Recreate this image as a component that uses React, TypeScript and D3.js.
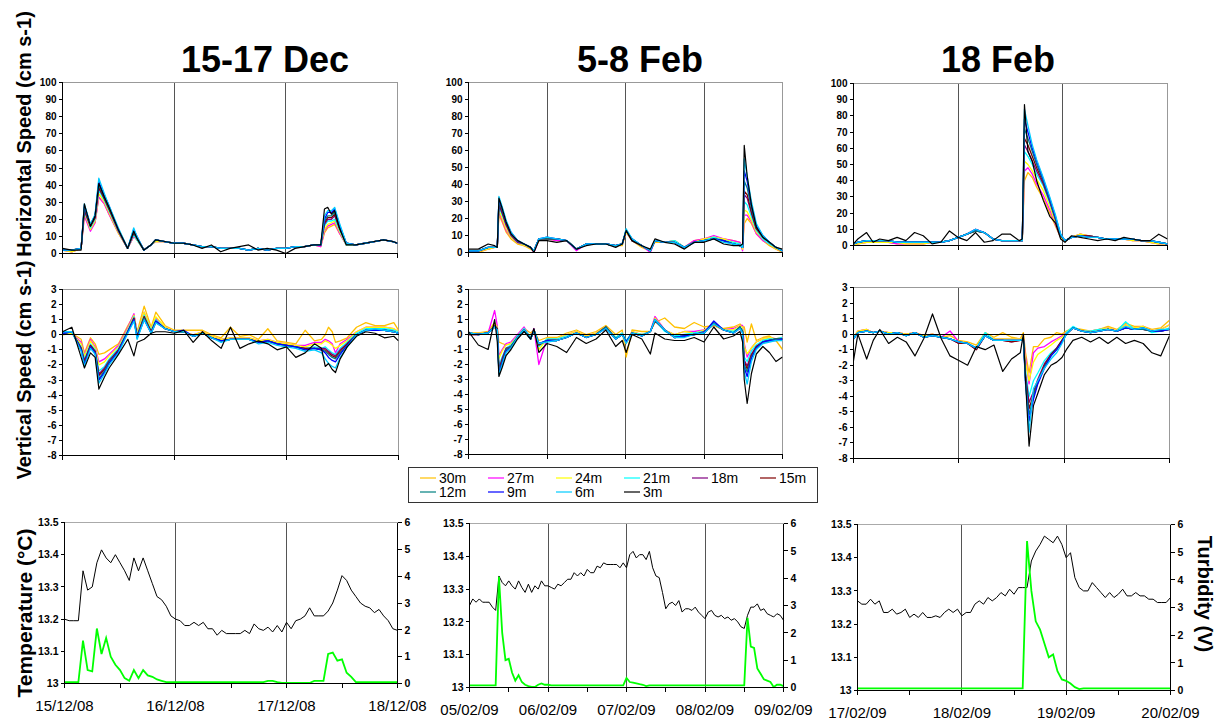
import * as d3 from "d3";

const FONT = "Arial, 'Liberation Sans', Helvetica, sans-serif";

// depths in legend order, deepest first
const depths = ["30m", "27m", "24m", "21m", "18m", "15m", "12m", "9m", "6m", "3m"];
const depthColors = ["#FFC000", "#FF00FF", "#FFFF00", "#00FFFF", "#800080", "#800000", "#008080", "#0000FF", "#00CCFF", "#000000"];

const titles = ["15-17 Dec", "5-8 Feb", "18 Feb"];
const decDates = ["15/12/08", "16/12/08", "17/12/08", "18/12/08"];
const feb5Dates = ["05/02/09", "06/02/09", "07/02/09", "08/02/09", "09/02/09"];
const feb17Dates = ["17/02/09", "18/02/09", "19/02/09", "20/02/09"];

// ---- 15-17 Dec : hours since 15/12/08 00:00
const decHours = [0, 2, 4, 4.7, 6, 7, 7.8, 9, 10, 12, 14, 15.3, 16, 17.5, 19, 20, 22, 24, 26, 28, 30, 32, 34, 36, 38, 40, 42, 44, 46, 48, 50, 52, 54, 55.5, 56.3, 57, 57.8, 58.5, 59.5, 61, 63, 65, 67, 69, 71, 72];

const decHoriz = [
  [2, 1, 3, 22, 14, 18, 33, 29, 23, 12, 3, 10, 8, 2, 5, 7, 7, 6, 6, 5, 4, 4, 3, 3, 3, 2, 3, 2, 3, 3, 4, 4, 5, 4, 12, 15, 16, 17, 12, 5, 5, 6, 7, 8, 7, 6],
  [2, 1, 3, 22, 13, 18, 33, 29, 23, 12, 3, 10, 8, 2, 5, 7, 7, 6, 6, 5, 4, 4, 3, 3, 3, 2, 3, 2, 3, 3, 4, 4, 5, 4, 13, 16, 17, 18, 12, 5, 5, 6, 7, 8, 7, 6],
  [2, 1, 3, 24, 14, 19, 35, 30, 24, 12, 3, 11, 8, 2, 5, 7, 7, 6, 6, 5, 4, 4, 3, 3, 3, 2, 3, 2, 3, 3, 4, 4, 5, 5, 14, 17, 18, 19, 13, 5, 5, 6, 7, 8, 7, 6],
  [2, 2, 3, 25, 15, 20, 37, 31, 25, 13, 3, 11, 8, 2, 5, 8, 7, 6, 6, 5, 4, 4, 3, 3, 3, 2, 3, 2, 3, 3, 4, 4, 5, 5, 16, 19, 19, 20, 14, 5, 5, 6, 7, 8, 7, 6],
  [2, 2, 3, 25, 16, 21, 38, 32, 26, 13, 3, 12, 9, 2, 5, 8, 7, 6, 6, 5, 4, 4, 3, 3, 3, 2, 3, 2, 3, 3, 4, 4, 5, 5, 17, 20, 20, 22, 15, 6, 5, 6, 7, 8, 7, 6],
  [2, 2, 3, 26, 16, 21, 39, 32, 26, 14, 3, 12, 9, 2, 5, 8, 7, 6, 6, 5, 4, 4, 3, 3, 3, 2, 3, 2, 3, 3, 4, 4, 5, 5, 18, 21, 21, 23, 15, 6, 5, 6, 7, 8, 7, 6],
  [2, 2, 3, 27, 17, 22, 40, 33, 27, 14, 3, 13, 9, 2, 5, 8, 7, 6, 6, 5, 4, 4, 3, 3, 3, 2, 3, 2, 3, 3, 4, 4, 5, 5, 19, 22, 22, 24, 16, 6, 5, 6, 7, 8, 7, 6],
  [2, 2, 3, 28, 17, 22, 42, 34, 28, 14, 3, 14, 10, 2, 5, 8, 7, 6, 6, 5, 4, 4, 3, 3, 3, 2, 3, 2, 3, 3, 4, 4, 5, 5, 20, 24, 24, 26, 17, 6, 5, 6, 7, 8, 7, 6],
  [2, 2, 3, 29, 17, 23, 44, 35, 28, 15, 3, 15, 10, 2, 5, 8, 7, 6, 6, 5, 4, 4, 3, 3, 3, 2, 3, 2, 3, 3, 4, 4, 5, 5, 22, 25, 25, 27, 18, 6, 5, 6, 7, 8, 7, 6],
  [3, 2, 2, 29, 16, 22, 41, 33, 27, 14, 3, 13, 9, 2, 5, 8, 7, 6, 6, 5, 3, 5, 1, 3, 4, 5, 2, 3, 2, 0, 3, 4, 5, 5, 26, 27, 23, 25, 15, 5, 5, 6, 7, 8, 7, 6],
];

const decVert = [
  [0.0, 0.1, -0.3, -1.2, -0.2, -0.6, -1.3, -1.2, -1.0, -0.6, 0.6, 1.3, 0.2, 1.9, 0.5, 1.5, 0.6, 0.3, 0.3, 0.3, 0.3, 0.0, -0.2, 0.5, -0.1, 0.0, -0.3, 0.4, -0.4, -0.5, -0.6, 0.3, -0.4, -0.3, 0.0, 0.5, 0.2, -0.5, -0.4, -0.2, 0.5, 0.8, 0.6, 0.6, 0.8, 0.3],
  [0.1, 0.1, -0.5, -1.3, -0.3, -0.8, -1.8, -1.6, -1.3, -0.7, 0.5, 1.4, 0.1, 1.5, 0.4, 1.1, 0.5, 0.2, 0.2, 0.0, 0.2, -0.1, -0.3, -0.2, -0.2, -0.2, -0.4, -0.3, -0.5, -0.6, -0.7, -0.7, -0.5, -0.5, -0.3, -0.4, -0.6, -1.2, -0.6, -0.3, 0.2, 0.5, 0.5, 0.5, 0.4, 0.2],
  [0.1, 0.1, -0.6, -1.4, -0.4, -0.9, -2.0, -1.8, -1.4, -0.8, 0.4, 1.3, 0.1, 1.5, 0.4, 1.2, 0.5, 0.2, 0.2, 0.0, 0.2, -0.1, -0.3, -0.2, -0.2, -0.2, -0.4, -0.3, -0.5, -0.6, -0.7, -0.8, -0.6, -0.6, -0.4, -0.5, -0.7, -0.9, -0.7, -0.4, 0.2, 0.5, 0.5, 0.5, 0.4, 0.2],
  [0.1, 0.2, -0.8, -1.6, -0.6, -1.0, -2.4, -2.1, -1.6, -0.9, 0.3, 1.2, 0.0, 1.3, 0.3, 1.0, 0.4, 0.2, 0.2, -0.1, 0.1, -0.2, -0.4, -0.3, -0.3, -0.3, -0.5, -0.4, -0.6, -0.7, -0.8, -0.9, -0.8, -0.9, -0.8, -1.0, -1.2, -1.3, -0.9, -0.5, 0.1, 0.4, 0.4, 0.4, 0.3, 0.2],
  [0.1, 0.2, -0.9, -1.7, -0.7, -1.1, -2.6, -2.2, -1.7, -1.0, 0.2, 1.1, -0.1, 1.2, 0.2, 0.9, 0.4, 0.2, 0.2, -0.1, 0.1, -0.2, -0.4, -0.3, -0.3, -0.3, -0.5, -0.4, -0.6, -0.7, -0.8, -0.9, -0.9, -0.9, -0.9, -1.1, -1.3, -1.4, -1.0, -0.6, 0.0, 0.3, 0.3, 0.3, 0.2, 0.1],
  [0.1, 0.2, -0.9, -1.8, -0.7, -1.1, -2.7, -2.3, -1.8, -1.0, 0.2, 1.1, -0.1, 1.2, 0.2, 0.9, 0.4, 0.2, 0.2, -0.1, 0.1, -0.2, -0.4, -0.3, -0.3, -0.3, -0.5, -0.4, -0.6, -0.7, -0.8, -0.9, -0.9, -1.0, -1.0, -1.2, -1.4, -1.5, -1.1, -0.6, 0.0, 0.3, 0.3, 0.3, 0.2, 0.1],
  [0.1, 0.2, -1.0, -1.9, -0.8, -1.2, -2.9, -2.4, -1.8, -1.1, 0.2, 1.0, -0.2, 1.1, 0.1, 0.8, 0.4, 0.2, 0.2, -0.1, 0.1, -0.2, -0.4, -0.3, -0.3, -0.3, -0.5, -0.4, -0.6, -0.7, -0.8, -1.0, -0.9, -1.0, -1.1, -1.3, -1.5, -1.6, -1.2, -0.7, 0.0, 0.3, 0.3, 0.3, 0.2, 0.1],
  [0.1, 0.2, -1.0, -2.0, -0.8, -1.2, -3.0, -2.5, -1.9, -1.1, 0.2, 1.0, -0.2, 1.0, 0.1, 0.9, 0.4, 0.2, 0.3, -0.1, 0.1, -0.2, -0.4, -0.3, -0.3, -0.3, -0.5, -0.4, -0.6, -0.7, -0.8, -1.0, -0.9, -1.0, -1.2, -1.5, -1.7, -1.8, -1.3, -0.7, 0.0, 0.3, 0.3, 0.3, 0.2, 0.1],
  [0.2, 0.2, -1.1, -2.1, -0.9, -1.3, -3.2, -2.6, -2.0, -1.2, 0.1, 0.9, -0.3, 1.0, 0.1, 0.8, 0.4, 0.2, 0.2, -0.1, 0.1, -0.2, -0.5, -0.3, -0.3, -0.3, -0.6, -0.5, -0.7, -0.8, -0.9, -1.1, -1.0, -1.2, -1.6, -1.9, -2.1, -2.2, -1.5, -0.8, 0.0, 0.3, 0.4, 0.3, 0.2, 0.1],
  [0.2, 0.5, -1.5, -2.2, -1.2, -1.5, -3.6, -2.8, -2.2, -1.3, -0.3, -1.4, -0.5, -0.3, 0.1, 0.2, 0.2, 0.1, 0.3, -0.5, 0.2, -0.4, -0.9, 0.5, -0.9, -0.6, -0.4, -0.6, -1.0, -0.8, -1.5, -1.2, -0.6, -0.9, -2.1, -1.9, -2.3, -2.5, -1.6, -0.8, -0.1, 0.2, 0.1, -0.2, -0.1, -0.4],
];

// ---- 5-8 Feb : hours since 05/02/09 00:00
const feb5Hours = [0, 3, 6, 8, 8.8, 9.3, 10.3, 11.5, 13, 15, 17, 19, 20, 21.5, 24, 27, 30, 33, 36, 39, 42, 45, 47, 48.2, 50, 53, 55.6, 57, 60, 63, 66, 69, 72, 75, 78, 81, 83, 83.8, 84.3, 85.2, 86.5, 88, 90, 92, 94, 96];

const feb5Horiz = [
  [1, 0, 2, 3, 3, 22, 18, 12, 8, 5, 4, 2, 1, 7, 8, 7, 7, 2, 5, 5, 5, 4, 4, 12, 7, 3, 1, 6, 6, 7, 3, 7, 8, 9, 8, 7, 6, 2, 17, 20, 17, 11, 7, 4, 2, 0],
  [1, 1, 2, 3, 3, 24, 19, 13, 9, 6, 4, 3, 0, 7, 8, 7, 7, 1, 5, 5, 5, 4, 5, 12, 7, 4, 0, 7, 6, 7, 3, 7, 8, 10, 8, 7, 6, 1, 22, 22, 18, 11, 7, 5, 2, 1],
  [1, 1, 2, 3, 3, 25, 20, 14, 9, 6, 4, 3, 1, 7, 8, 8, 7, 2, 5, 5, 5, 4, 5, 12, 7, 4, 1, 7, 6, 7, 3, 6, 8, 9, 8, 6, 5, 2, 25, 24, 19, 12, 8, 5, 2, 1],
  [1, 1, 3, 3, 3, 27, 22, 16, 10, 6, 5, 3, 1, 8, 8, 8, 7, 2, 5, 5, 5, 4, 5, 13, 7, 4, 1, 7, 6, 7, 3, 6, 7, 9, 7, 6, 5, 3, 30, 28, 21, 13, 8, 5, 3, 1],
  [1, 1, 3, 3, 3, 28, 23, 16, 10, 6, 5, 3, 1, 8, 8, 8, 7, 2, 5, 5, 5, 4, 5, 13, 7, 4, 1, 7, 6, 6, 3, 6, 7, 8, 7, 5, 4, 3, 34, 32, 23, 14, 9, 6, 3, 1],
  [1, 1, 3, 3, 3, 29, 24, 17, 11, 7, 5, 3, 1, 8, 8, 8, 7, 2, 5, 5, 5, 4, 5, 13, 7, 4, 1, 7, 6, 6, 3, 6, 7, 8, 7, 5, 4, 3, 36, 34, 24, 14, 9, 6, 3, 1],
  [1, 1, 3, 3, 3, 30, 25, 18, 11, 7, 5, 3, 1, 8, 8, 8, 7, 2, 5, 5, 5, 4, 5, 13, 8, 4, 1, 7, 6, 6, 3, 6, 7, 8, 7, 5, 4, 3, 42, 38, 26, 15, 9, 6, 3, 1],
  [1, 1, 3, 3, 3, 31, 26, 18, 12, 7, 5, 3, 1, 8, 9, 8, 7, 2, 5, 5, 5, 4, 5, 13, 8, 4, 1, 7, 6, 6, 3, 6, 7, 8, 7, 5, 4, 3, 48, 42, 28, 16, 10, 6, 3, 1],
  [1, 1, 3, 3, 3, 33, 27, 19, 12, 7, 5, 3, 1, 8, 9, 8, 7, 2, 5, 5, 5, 4, 5, 14, 8, 4, 1, 7, 6, 6, 3, 6, 7, 8, 6, 5, 4, 3, 55, 45, 30, 17, 10, 6, 3, 1],
  [2, 2, 5, 4, 3, 32, 26, 18, 11, 7, 5, 3, 0, 7, 7, 6, 7, 2, 4, 5, 5, 3, 5, 13, 7, 4, 2, 8, 6, 5, 2, 6, 6, 8, 5, 4, 4, 5, 63, 45, 28, 15, 9, 6, 3, 2],
];

const feb5Vert = [
  [0.1, 0.1, 0.2, 0.8, 0.5, -0.5, -0.6, -0.7, -0.6, -0.1, 0.4, 0.1, 0.3, -0.4, -0.2, -0.2, 0.1, 0.3, 0.0, 0.2, 0.6, 0.0, 0.3, -1.5, 0.3, 0.2, 0.2, 0.8, 1.1, 0.5, 0.4, 0.8, 0.5, 0.6, 0.4, 0.5, 0.7, 0.5, 0.5, -0.5, 0.7, -0.4, -0.2, -0.1, -0.4, -1.0],
  [0.1, 0.1, 0.1, 1.6, 0.6, -1.4, -1.0, -0.6, -0.5, 0.0, 0.5, -0.2, 0.4, -2.0, -0.3, -0.3, 0.0, 0.2, -0.1, 0.1, 0.5, -0.2, 0.1, -0.6, 0.2, 0.0, 0.2, 1.2, 0.3, 0.0, 0.2, 0.2, 0.3, 0.6, 0.3, 0.4, 0.6, 0.6, -0.6, -1.5, -0.9, -0.5, -0.3, -0.2, -0.3, -0.2],
  [0.1, 0.1, 0.1, 0.7, 0.5, -1.6, -1.1, -0.7, -0.6, -0.1, 0.4, -0.2, 0.3, -1.0, -0.3, -0.3, 0.0, 0.2, -0.1, 0.1, 0.5, -0.2, 0.1, -0.6, 0.2, 0.0, 0.2, 1.1, 0.3, 0.0, 0.2, 0.1, 0.3, 0.6, 0.3, 0.3, 0.6, 0.5, -0.8, -1.3, -0.9, -0.5, -0.3, -0.2, -0.3, -0.2],
  [0.1, 0.0, 0.1, 0.6, 0.4, -2.1, -1.5, -0.9, -0.7, -0.1, 0.4, -0.2, 0.3, -0.8, -0.3, -0.3, -0.1, 0.1, -0.2, 0.0, 0.5, -0.2, 0.1, -0.4, 0.1, 0.0, 0.2, 1.0, 0.2, -0.1, 0.0, 0.1, 0.2, 0.7, 0.3, 0.2, 0.5, 0.3, -1.5, -1.8, -1.1, -0.7, -0.4, -0.3, -0.3, -0.2],
  [0.0, 0.0, 0.1, 0.6, 0.4, -2.3, -1.6, -0.9, -0.8, -0.2, 0.3, -0.3, 0.3, -0.7, -0.4, -0.4, -0.2, 0.1, -0.2, 0.0, 0.5, -0.3, 0.0, -0.5, 0.1, -0.1, 0.2, 1.0, 0.3, -0.2, -0.1, 0.0, 0.2, 0.7, 0.3, 0.1, 0.5, 0.2, -1.7, -2.1, -1.3, -0.8, -0.5, -0.4, -0.3, -0.3],
  [0.0, 0.0, 0.1, 0.5, 0.4, -2.4, -1.7, -1.0, -0.8, -0.2, 0.3, -0.3, 0.3, -0.7, -0.4, -0.4, -0.2, 0.1, -0.2, 0.0, 0.5, -0.3, 0.0, -0.5, 0.1, -0.1, 0.2, 0.9, 0.3, -0.2, -0.1, 0.0, 0.1, 0.7, 0.3, 0.1, 0.5, 0.2, -1.8, -2.3, -1.4, -0.8, -0.5, -0.4, -0.3, -0.3],
  [0.1, 0.0, 0.1, 0.5, 0.3, -2.5, -1.8, -1.0, -0.8, -0.2, 0.3, -0.3, 0.3, -0.6, -0.4, -0.4, -0.2, 0.1, -0.2, 0.0, 0.5, -0.3, 0.0, -0.5, 0.1, -0.1, 0.2, 0.9, 0.3, -0.2, -0.1, 0.0, 0.1, 0.8, 0.3, 0.1, 0.5, 0.2, -2.0, -2.5, -1.5, -0.9, -0.5, -0.4, -0.3, -0.3],
  [0.1, 0.0, 0.1, 0.5, 0.3, -2.6, -1.9, -1.1, -0.9, -0.2, 0.3, -0.3, 0.3, -0.6, -0.4, -0.4, -0.2, 0.1, -0.2, 0.0, 0.4, -0.3, 0.0, -0.5, 0.1, -0.1, 0.2, 1.0, 0.3, -0.2, -0.1, 0.0, 0.1, 0.9, 0.3, 0.1, 0.4, 0.1, -2.2, -2.8, -1.6, -0.9, -0.5, -0.4, -0.4, -0.3],
  [0.1, 0.0, 0.1, 0.5, 0.3, -2.7, -2.0, -1.2, -0.9, -0.2, 0.3, -0.3, 0.3, -0.6, -0.5, -0.4, -0.2, 0.1, -0.2, 0.0, 0.4, -0.3, 0.0, -0.6, 0.1, -0.1, 0.2, 1.0, 0.3, -0.2, -0.2, 0.0, 0.1, 0.7, 0.3, 0.1, 0.4, 0.1, -2.5, -3.3, -1.8, -1.0, -0.6, -0.5, -0.4, -0.4],
  [0.2, -0.7, -1.0, 1.0, -0.5, -2.8, -2.2, -1.4, -1.0, -0.3, 0.2, -0.3, 0.4, -1.2, -0.6, -0.8, -1.2, -0.2, -0.6, -0.3, 0.3, -0.8, -0.4, -1.2, 0.0, -0.3, -1.3, 0.1, -0.3, -0.4, -0.4, -0.2, -0.5, 0.5, -0.3, -0.1, 0.2, -0.5, -3.0, -4.6, -2.6, -1.3, -0.8, -1.2, -1.8, -1.5],
];

// ---- 17-20 Feb : hours since 17/02/09 00:00
const feb17Hours = [0, 1, 3, 4.5, 6, 8, 10, 12, 14, 16, 18, 20, 22, 24, 26, 28, 30, 32, 34, 36, 38, 38.7, 39.2, 40, 41, 42, 43.5, 45, 46.3, 47.5, 48.5, 50, 52, 54, 56, 58, 60, 62, 64, 66, 68, 70, 72];

const feb17Horiz = [
  [0, 1, 2, 2, 2, 2, 1, 1, 1, 1, 2, 2, 3, 5, 7, 10, 8, 4, 3, 3, 3, 3, 40, 45, 42, 36, 29, 20, 12, 5, 3, 5, 7, 6, 5, 4, 4, 4, 3, 3, 2, 1, 1],
  [0, 1, 2, 2, 2, 2, 1, 1, 1, 1, 2, 2, 3, 5, 7, 10, 8, 4, 3, 3, 3, 3, 46, 48, 44, 38, 31, 22, 13, 5, 3, 5, 7, 6, 5, 4, 4, 4, 3, 3, 2, 1, 1],
  [0, 1, 2, 2, 2, 2, 2, 1, 1, 1, 2, 2, 3, 5, 7, 9, 8, 4, 3, 3, 3, 3, 52, 50, 46, 41, 34, 24, 14, 5, 3, 5, 7, 6, 5, 4, 4, 4, 3, 3, 2, 1, 1],
  [1, 2, 3, 3, 3, 3, 2, 2, 2, 2, 2, 2, 3, 5, 7, 9, 8, 4, 3, 3, 3, 3, 58, 55, 50, 44, 37, 26, 16, 6, 3, 5, 6, 6, 5, 4, 4, 4, 4, 3, 3, 2, 1],
  [1, 2, 3, 3, 3, 3, 2, 2, 2, 2, 2, 2, 3, 5, 7, 9, 8, 4, 3, 3, 3, 3, 62, 58, 52, 46, 38, 27, 16, 6, 3, 5, 6, 6, 5, 4, 4, 4, 4, 3, 3, 2, 1],
  [1, 2, 3, 3, 3, 3, 2, 2, 2, 2, 2, 2, 3, 5, 7, 9, 8, 4, 3, 3, 3, 3, 66, 62, 55, 48, 39, 28, 17, 6, 3, 5, 6, 6, 5, 4, 4, 4, 4, 3, 3, 2, 1],
  [1, 2, 3, 3, 3, 3, 2, 2, 2, 2, 2, 2, 3, 5, 7, 9, 8, 4, 3, 3, 3, 3, 72, 66, 58, 50, 40, 28, 17, 6, 3, 5, 6, 5, 5, 4, 4, 4, 4, 3, 3, 2, 1],
  [1, 2, 3, 3, 3, 3, 2, 2, 2, 2, 2, 2, 3, 5, 7, 10, 8, 4, 3, 3, 3, 3, 78, 70, 60, 52, 41, 29, 18, 7, 3, 5, 6, 5, 5, 4, 4, 4, 4, 3, 3, 2, 1],
  [1, 2, 3, 3, 3, 3, 2, 2, 2, 2, 2, 2, 3, 5, 7, 10, 8, 4, 3, 3, 3, 3, 84, 74, 62, 53, 42, 30, 19, 7, 3, 5, 6, 5, 5, 4, 4, 4, 4, 3, 3, 2, 1],
  [1, 4, 8, 2, 4, 3, 5, 3, 8, 6, 1, 2, 9, 5, 3, 8, 2, 3, 7, 7, 3, 4, 87, 58, 52, 40, 28, 18, 14, 4, 2, 6, 5, 4, 3, 4, 3, 5, 4, 3, 3, 7, 4],
];

const feb17Vert = [
  [-0.2, 0.2, 0.3, 0.1, 0.2, 0.1, 0.1, 0.0, 0.1, -0.1, 0.0, -0.2, -0.1, -0.4, -0.5, -0.7, 0.1, -0.2, 0.1, -0.2, -0.3, 0.1, -1.2, -2.5, -0.8, -0.8, -0.3, -0.2, 0.1, 0.0, 0.2, 0.4, 0.3, 0.2, 0.3, 0.5, 0.3, 0.7, 0.5, 0.5, 0.3, 0.4, 0.9],
  [-0.2, 0.2, 0.3, 0.1, 0.2, 0.1, 0.1, 0.0, 0.1, -0.1, 0.0, -0.2, 0.2, -0.5, -0.6, -0.9, -0.1, -0.3, -0.3, -0.3, -0.3, -0.2, -1.5, -3.2, -1.2, -0.9, -0.8, -0.5, -0.3, -0.1, 0.1, 0.4, 0.2, 0.2, 0.3, 0.4, 0.2, 0.6, 0.4, 0.5, 0.2, 0.3, 0.6],
  [-0.2, 0.2, 0.3, 0.1, 0.2, 0.1, 0.1, 0.0, 0.1, -0.1, 0.0, -0.2, -0.3, -0.5, -0.6, -0.9, -0.1, -0.3, -0.3, -0.3, -0.3, -0.2, -1.8, -3.0, -1.8, -1.3, -1.0, -0.7, -0.4, -0.2, 0.1, 0.4, 0.2, 0.2, 0.3, 0.4, 0.2, 0.6, 0.4, 0.5, 0.2, 0.3, 0.6],
  [-0.2, 0.1, 0.2, 0.1, 0.2, 0.0, 0.1, -0.1, 0.1, -0.2, -0.1, -0.2, -0.3, -0.5, -0.6, -0.9, 0.1, -0.4, -0.4, -0.4, -0.4, -0.3, -2.4, -4.0, -3.0, -2.5, -1.7, -1.2, -0.9, -0.4, 0.1, 0.5, 0.2, 0.2, 0.3, 0.3, 0.2, 0.8, 0.3, 0.4, 0.1, 0.2, 0.4],
  [-0.3, 0.1, 0.2, 0.1, 0.2, 0.0, 0.1, -0.1, 0.1, -0.2, -0.1, -0.2, -0.3, -0.6, -0.6, -1.0, -0.1, -0.4, -0.4, -0.5, -0.4, -0.3, -2.6, -4.4, -3.7, -2.9, -1.9, -1.3, -0.9, -0.4, 0.0, 0.4, 0.2, 0.1, 0.2, 0.3, 0.2, 0.4, 0.3, 0.3, 0.2, 0.2, 0.3],
  [-0.3, 0.1, 0.2, 0.1, 0.2, 0.0, 0.1, -0.1, 0.1, -0.2, -0.1, -0.2, -0.3, -0.6, -0.6, -1.0, -0.1, -0.4, -0.4, -0.5, -0.4, -0.3, -2.8, -4.8, -3.9, -3.1, -2.0, -1.3, -0.9, -0.4, 0.0, 0.4, 0.2, 0.1, 0.2, 0.3, 0.2, 0.4, 0.3, 0.3, 0.2, 0.2, 0.3],
  [-0.3, 0.1, 0.2, 0.1, 0.2, 0.0, 0.1, -0.1, 0.1, -0.2, -0.1, -0.2, -0.3, -0.5, -0.6, -0.9, -0.1, -0.4, -0.4, -0.4, -0.4, -0.3, -3.0, -5.2, -4.0, -3.1, -2.1, -1.4, -1.0, -0.5, 0.0, 0.4, 0.2, 0.1, 0.2, 0.3, 0.2, 0.4, 0.3, 0.3, 0.2, 0.2, 0.3],
  [-0.3, 0.1, 0.2, 0.1, 0.2, 0.0, 0.1, -0.1, 0.1, -0.2, -0.1, -0.2, -0.3, -0.5, -0.6, -0.9, -0.1, -0.4, -0.4, -0.4, -0.4, -0.3, -3.2, -5.6, -4.2, -3.2, -2.2, -1.4, -1.0, -0.5, 0.0, 0.4, 0.2, 0.1, 0.2, 0.3, 0.2, 0.4, 0.3, 0.4, 0.2, 0.2, 0.3],
  [-0.3, 0.1, 0.2, 0.1, 0.2, 0.0, 0.1, -0.1, 0.1, -0.2, -0.1, -0.2, -0.3, -0.5, -0.6, -0.9, -0.1, -0.4, -0.4, -0.4, -0.4, -0.3, -3.0, -6.3, -3.5, -3.0, -2.2, -1.6, -1.2, -0.6, 0.0, 0.4, 0.2, 0.1, 0.2, 0.3, 0.2, 0.5, 0.3, 0.4, 0.2, 0.3, 0.3],
  [-1.7, 0.0, -1.6, -0.4, 0.3, -0.6, -0.2, -0.5, -1.4, -0.3, 1.3, -0.3, -1.4, -1.7, -2.0, -0.8, -1.0, -0.7, -2.4, -1.6, -1.2, 0.0, -3.0, -7.2, -4.6, -3.8, -2.6, -2.0, -1.8, -1.5, -1.0, -0.4, -0.2, -0.5, -0.2, -0.6, -0.2, -0.6, -0.4, -0.6, -1.2, -1.4, -0.1],
];

// ---- temperature (°C) and turbidity (V), hourly
const decTemp = [
  13.2, 13.195, 13.195, 13.195, 13.35, 13.29, 13.3, 13.375, 13.415, 13.39,
  13.375, 13.4, 13.375, 13.35, 13.32, 13.39, 13.35, 13.39, 13.35, 13.31,
  13.27, 13.26, 13.24, 13.21, 13.2, 13.195, 13.18, 13.18, 13.19, 13.18,
  13.19, 13.17, 13.17, 13.15, 13.165, 13.155, 13.155, 13.155, 13.155, 13.165,
  13.155, 13.185, 13.17, 13.165, 13.175, 13.16, 13.18, 13.16, 13.19, 13.17,
  13.195, 13.2, 13.21, 13.235, 13.21, 13.21, 13.21, 13.225, 13.25, 13.29,
  13.335, 13.32, 13.29, 13.27, 13.25, 13.24, 13.235, 13.22, 13.23, 13.21,
  13.195, 13.17, 13.165,
];
const decTurb = [
  0.05, 0.05, 0.05, 0.05, 1.6, 0.5, 0.45, 2.05, 1.1, 1.7,
  1.0, 0.7, 0.5, 0.2, 0.1, 0.5, 0.2, 0.5, 0.3, 0.25,
  0.15, 0.1, 0.05, 0.05, 0.05, 0.05, 0.05, 0.05, 0.05, 0.05,
  0.05, 0.05, 0.05, 0.05, 0.05, 0.05, 0.05, 0.05, 0.05, 0.05,
  0.05, 0.05, 0.05, 0.05, 0.1, 0.1, 0.05, 0.02, 0.02, 0.02,
  0.02, 0.02, 0.02, 0.02, 0.1, 0.1, 0.1, 1.1, 1.15, 0.85,
  0.9, 0.4, 0.25, 0.05, 0.05, 0.05, 0.05, 0.05, 0.05, 0.05,
  0.05, 0.05, 0.05,
];
const feb5Temp = [
  13.25, 13.27, 13.26, 13.27, 13.26, 13.26, 13.26, 13.245, 13.235, 13.34,
  13.32, 13.31, 13.325, 13.31, 13.3, 13.325, 13.305, 13.29, 13.315, 13.29,
  13.31, 13.3, 13.325, 13.31, 13.31, 13.305, 13.3, 13.315, 13.31, 13.32,
  13.33, 13.33, 13.35, 13.34, 13.35, 13.34, 13.36, 13.35, 13.35, 13.37,
  13.365, 13.38, 13.375, 13.375, 13.375, 13.375, 13.365, 13.38, 13.365, 13.405,
  13.415, 13.395, 13.405, 13.405, 13.39, 13.415, 13.365, 13.34, 13.335, 13.29,
  13.24, 13.255, 13.26, 13.25, 13.265, 13.23, 13.24, 13.24, 13.235, 13.245,
  13.23, 13.22, 13.21, 13.23, 13.235, 13.22, 13.215, 13.22, 13.21, 13.215,
  13.205, 13.21, 13.2, 13.185, 13.18, 13.22, 13.245, 13.245, 13.255, 13.235,
  13.24, 13.225, 13.22, 13.215, 13.225, 13.22, 13.205,
];
const feb5Turb = [
  0.08, 0.08, 0.08, 0.08, 0.08, 0.08, 0.08, 0.08, 0.08, 4.05,
  2.0, 1.0, 1.05, 0.55, 0.25, 0.45, 0.2, 0.1, 0.05, 0.02,
  0.02, 0.1, 0.15, 0.1, 0.1, 0.08, 0.08, 0.08, 0.08, 0.08,
  0.08, 0.08, 0.08, 0.08, 0.08, 0.08, 0.08, 0.08, 0.08, 0.08,
  0.08, 0.08, 0.08, 0.08, 0.08, 0.08, 0.08, 0.08, 0.35, 0.2,
  0.18, 0.15, 0.12, 0.1, 0.05, 0.08, 0.08, 0.08, 0.08, 0.08,
  0.08, 0.08, 0.08, 0.08, 0.08, 0.08, 0.08, 0.08, 0.08, 0.08,
  0.08, 0.08, 0.08, 0.08, 0.08, 0.08, 0.08, 0.08, 0.08, 0.08,
  0.08, 0.08, 0.08, 0.08, 0.08, 2.55, 1.5, 1.45, 0.7, 0.5,
  0.3, 0.25, 0.2, 0.02, 0.1, 0.1, 0.05,
];
const feb17Temp = [
  13.27, 13.26, 13.26, 13.275, 13.26, 13.27, 13.235, 13.235, 13.245, 13.23,
  13.235, 13.245, 13.22, 13.23, 13.22, 13.235, 13.22, 13.22, 13.225, 13.22,
  13.235, 13.245, 13.235, 13.245, 13.225, 13.235, 13.235, 13.26, 13.27, 13.26,
  13.28, 13.27, 13.28, 13.295, 13.285, 13.305, 13.29, 13.31, 13.31, 13.31,
  13.39, 13.42, 13.44, 13.465, 13.455, 13.445, 13.465, 13.44, 13.4, 13.415,
  13.34, 13.31, 13.3, 13.3, 13.325, 13.31, 13.295, 13.28, 13.295, 13.28,
  13.29, 13.305, 13.285, 13.285, 13.295, 13.285, 13.285, 13.275, 13.275, 13.265,
  13.265, 13.265, 13.28,
];
const feb17Turb = [
  0.08, 0.08, 0.08, 0.08, 0.08, 0.08, 0.08, 0.08, 0.08, 0.08,
  0.08, 0.08, 0.08, 0.08, 0.08, 0.08, 0.08, 0.08, 0.08, 0.08,
  0.08, 0.08, 0.08, 0.08, 0.08, 0.08, 0.08, 0.08, 0.08, 0.08,
  0.08, 0.08, 0.08, 0.08, 0.08, 0.08, 0.08, 0.08, 0.08, 5.4,
  3.6, 2.5, 2.2, 1.7, 1.2, 1.3, 0.7, 0.4, 0.35, 0.25,
  0.12, 0.05, 0.08, 0.08, 0.08, 0.08, 0.08, 0.08, 0.08, 0.08,
  0.08, 0.08, 0.08, 0.08, 0.08, 0.08, 0.08, 0.08, 0.08, 0.08,
  0.08, 0.08, 0.08,
];

type Box = { left: number; right: number; top: number; bottom: number };

function pairs(xs: number[], vals: number[]) {
  const out: [number, number][] = [];
  vals.forEach((v, i) => {
    if (xs[i] !== undefined) out.push([xs[i], v]);
  });
  return out;
}

function SpeedPanel({ id, box, days, hours, series, domain, zero }: { id: string; box: Box; days: number; hours: number[]; series: number[][]; domain: [number, number]; zero?: boolean }) {
  const { left, right, top, bottom } = box;
  const x = d3.scaleLinear().domain([0, days * 24]).range([left, right]);
  const y = d3.scaleLinear().domain(domain).range([bottom, top]);
  const line = d3.line<[number, number]>().x((d) => x(d[0])).y((d) => y(d[1]));
  const dayTicks = d3.range(0, days + 1).map((d) => d * 24);
  const yTicks = y.ticks(domain[1] - domain[0] > 20 ? 10 : domain[1] - domain[0]);
  return (
    <g>
      <defs>
        <clipPath id={id}>
          <rect x={left} y={top} width={right - left} height={bottom - top} />
        </clipPath>
      </defs>
      {dayTicks.slice(1, -1).map((h) => (
        <line key={h} x1={x(h)} x2={x(h)} y1={top} y2={bottom} stroke="#555" shapeRendering="crispEdges" />
      ))}
      <path d={`M${left},${top}H${right}V${bottom}`} stroke="#999" fill="none" shapeRendering="crispEdges" />
      <g clipPath={`url(#${id})`}>
        {series.map((vals, i) => (
          <path key={depths[i]} d={line(pairs(hours, vals)) || ""} stroke={depthColors[i]} strokeWidth={i === 9 ? 1.2 : 1.3} fill="none" strokeLinejoin="round" />
        ))}
      </g>
      {zero && <line x1={left} x2={right} y1={y(0)} y2={y(0)} stroke="#000" shapeRendering="crispEdges" />}
      <line x1={left} x2={right} y1={bottom} y2={bottom} stroke="#000" shapeRendering="crispEdges" />
      <line x1={left} x2={left} y1={top} y2={bottom} stroke="#000" shapeRendering="crispEdges" />
      {yTicks.map((t) => (
        <g key={t}>
          <line x1={left - 4} x2={left} y1={y(t)} y2={y(t)} stroke="#000" shapeRendering="crispEdges" />
          <text x={left - 6} y={y(t)} dy="0.35em" textAnchor="end" fontSize={10} fontWeight="bold" fontFamily={FONT}>
            {t}
          </text>
        </g>
      ))}
      {dayTicks.map((h) => (
        <line key={h} x1={x(h)} x2={x(h)} y1={bottom} y2={bottom + 4} stroke="#000" shapeRendering="crispEdges" />
      ))}
    </g>
  );
}

function TempPanel({ box, days, temp, turb, dates, rightLabel }: { box: Box; days: number; temp: number[]; turb: number[]; dates: string[]; rightLabel?: boolean }) {
  const { left, right, top, bottom } = box;
  const x = d3.scaleLinear().domain([0, days * 24]).range([left, right]);
  const yT = d3.scaleLinear().domain([13, 13.5]).range([bottom, top]);
  const yV = d3.scaleLinear().domain([0, 6]).range([bottom, top]);
  const hrs = d3.range(0, days * 24 + 1);
  const tLine = d3.line<[number, number]>().x((d) => x(d[0])).y((d) => yT(d[1]));
  const vLine = d3.line<[number, number]>().x((d) => x(d[0])).y((d) => yV(d[1]));
  const dayTicks = d3.range(0, days + 1).map((d) => d * 24);
  const halfTicks = d3.range(0, days * 2 + 1).map((d) => d * 12);
  return (
    <g>
      {dayTicks.slice(1, -1).map((h) => (
        <line key={h} x1={x(h)} x2={x(h)} y1={top} y2={bottom} stroke="#555" shapeRendering="crispEdges" />
      ))}
      <line x1={left} x2={right} y1={top} y2={top} stroke="#aaa" shapeRendering="crispEdges" />
      <path d={tLine(pairs(hrs, temp)) || ""} stroke="#000" strokeWidth={1} fill="none" />
      <path d={vLine(pairs(hrs, turb)) || ""} stroke="#00FF00" strokeWidth={1.8} fill="none" />
      <line x1={left} x2={right} y1={bottom} y2={bottom} stroke="#000" shapeRendering="crispEdges" />
      <line x1={left} x2={left} y1={top} y2={bottom} stroke="#000" shapeRendering="crispEdges" />
      <line x1={right} x2={right} y1={top} y2={bottom} stroke="#000" shapeRendering="crispEdges" />
      {yT.ticks(5).map((t) => (
        <g key={t}>
          <line x1={left - 4} x2={left} y1={yT(t)} y2={yT(t)} stroke="#000" shapeRendering="crispEdges" />
          <text x={left - 6} y={yT(t)} dy="0.35em" textAnchor="end" fontSize={10.5} fontWeight="bold" fontFamily={FONT}>
            {d3.format("~g")(+t.toFixed(1))}
          </text>
        </g>
      ))}
      {yV.ticks(6).map((t) => (
        <g key={t}>
          <line x1={right} x2={right + 4} y1={yV(t)} y2={yV(t)} stroke="#000" shapeRendering="crispEdges" />
          <text x={right + 7} y={yV(t)} dy="0.35em" textAnchor="start" fontSize={10.5} fontWeight="bold" fontFamily={FONT}>
            {t}
          </text>
        </g>
      ))}
      {halfTicks.map((h) => (
        <line key={h} x1={x(h)} x2={x(h)} y1={bottom} y2={bottom + 4} stroke="#000" shapeRendering="crispEdges" />
      ))}
      {dates.map((d, i) => (
        <text key={d} x={x(i * 24)} y={bottom + 27} textAnchor="middle" fontSize={15} fontFamily={FONT}>
          {d}
        </text>
      ))}
      {rightLabel && (
        <text transform={`translate(1198,594) rotate(90)`} textAnchor="middle" fontSize={20} fontWeight="bold" fontFamily={FONT}>
          Turbidity (V)
        </text>
      )}
    </g>
  );
}

function Legend() {
  const cols = [420, 488, 556, 624, 692, 760];
  const rows = [478, 492];
  return (
    <g>
      <rect x={408.5} y={467.5} width={409} height={35} fill="#fff" stroke="#333" />
      {depths.map((d, i) => {
        const cx = cols[i % 6];
        const cy = rows[Math.floor(i / 6)];
        return (
          <g key={d}>
            <line x1={cx} x2={cx + 16} y1={cy} y2={cy} stroke={depthColors[i]} strokeWidth={1.2} />
            <text x={cx + 19} y={cy} dy="0.36em" fontSize={14} fontFamily={FONT}>
              {d}
            </text>
          </g>
        );
      })}
    </g>
  );
}

export default function App() {
  const titleX = [265, 640, 998];
  return (
    <svg width={1223} height={724} style={{ position: "absolute", left: 0, top: 0, background: "#fff" }}>
      {titles.map((t, i) => (
        <text key={t} x={titleX[i]} y={72} textAnchor="middle" fontSize={36} fontWeight="bold" fontFamily={FONT}>
          {t}
        </text>
      ))}
      <text transform="translate(31,134) rotate(-90)" textAnchor="middle" fontSize={20} fontWeight="bold" fontFamily={FONT}>
        Horizontal  Speed (cm s-1)
      </text>
      <text transform="translate(31,370) rotate(-90)" textAnchor="middle" fontSize={20} fontWeight="bold" fontFamily={FONT}>
        Vertical Speed (cm s-1)
      </text>
      <text transform="translate(32,613) rotate(-90)" textAnchor="middle" fontSize={21} fontWeight="bold" fontFamily={FONT}>
        Temperature (°C)
      </text>

      <SpeedPanel id="h1" box={{ left: 62.5, right: 397.5, top: 82.5, bottom: 253.5 }} days={3} hours={decHours} series={decHoriz} domain={[0, 100]} />
      <SpeedPanel id="h2" box={{ left: 468.5, right: 782.5, top: 82.5, bottom: 252.5 }} days={4} hours={feb5Hours} series={feb5Horiz} domain={[0, 100]} />
      <SpeedPanel id="h3" box={{ left: 853.5, right: 1167.5, top: 83.5, bottom: 245.5 }} days={3} hours={feb17Hours} series={feb17Horiz} domain={[0, 100]} />

      <SpeedPanel id="v1" box={{ left: 62.5, right: 398.5, top: 289.5, bottom: 455.5 }} days={3} hours={decHours} series={decVert} domain={[-8, 3]} zero />
      <SpeedPanel id="v2" box={{ left: 468.5, right: 782.5, top: 289.5, bottom: 454.5 }} days={4} hours={feb5Hours} series={feb5Vert} domain={[-8, 3]} zero />
      <SpeedPanel id="v3" box={{ left: 853.5, right: 1169.5, top: 287.5, bottom: 458.5 }} days={3} hours={feb17Hours} series={feb17Vert} domain={[-8, 3]} zero />

      <Legend />

      <TempPanel box={{ left: 64.5, right: 397.5, top: 522.5, bottom: 683.5 }} days={3} temp={decTemp} turb={decTurb} dates={decDates} />
      <TempPanel box={{ left: 469.5, right: 783.5, top: 523.5, bottom: 687.5 }} days={4} temp={feb5Temp} turb={feb5Turb} dates={feb5Dates} />
      <TempPanel box={{ left: 857.5, right: 1170.5, top: 524.5, bottom: 690.5 }} days={3} temp={feb17Temp} turb={feb17Turb} dates={feb17Dates} rightLabel />
    </svg>
  );
}
